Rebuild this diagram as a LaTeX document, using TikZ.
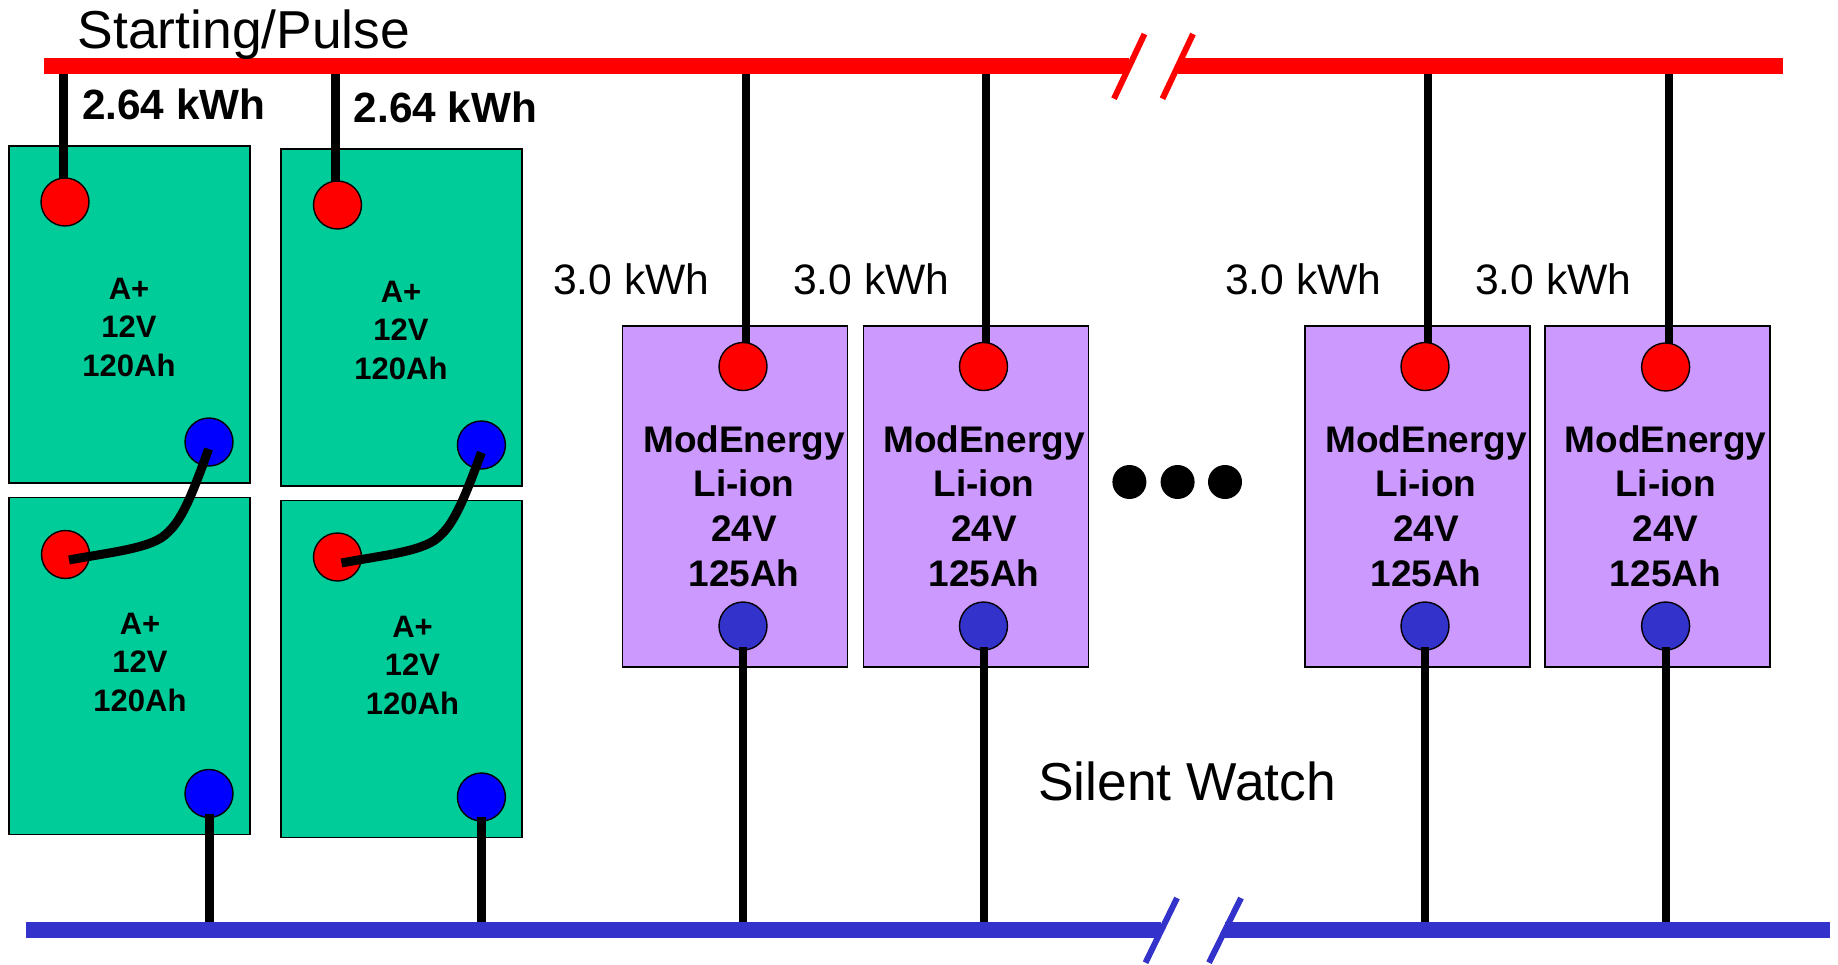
\documentclass[tikz,border=0pt]{standalone}
\usepackage{fontspec}
\setmainfont{Liberation Sans}
\definecolor{busred}{HTML}{FF0000}
\definecolor{busblue}{HTML}{3333CC}
\definecolor{agm}{HTML}{00CC99}
\definecolor{liion}{HTML}{CC99FF}
\definecolor{termblue}{HTML}{0000FF}
\tikzset{
  x=1pt,y=-1pt,
  cell/.style={draw=black,line width=1.3pt,minimum width=#1,inner sep=0pt,outer sep=0pt},
  agmcell/.style={cell=241pt,minimum height=337pt,fill=agm},
  lithcell/.style={cell=225pt,minimum height=341pt,fill=liion},
  term/.style={circle,draw=black,line width=1.4pt,minimum size=48pt,inner sep=0pt,outer sep=0pt},
  redterm/.style={term,fill=busred},
  blueterm/.style={term,fill=termblue},
  indigoterm/.style={term,fill=busblue},
  wire/.style={draw=black,line width=9pt},
  thinwire/.style={draw=black,line width=8pt},
  redbus/.style={draw=busred,line width=16pt},
  bluebus/.style={draw=busblue,line width=16pt},
  redslash/.style={draw=busred,line width=6pt},
  blueslash/.style={draw=busblue,line width=6pt},
  agmtext/.style={inner sep=0pt,anchor=base,align=center,font=\fontsize{31}{38.5}\selectfont\bfseries},
  lithtext/.style={inner sep=0pt,anchor=base,align=center,font=\fontsize{37}{44.6}\selectfont\bfseries},
  bigtext/.style={inner sep=0pt,anchor=base west,font=\fontsize{53.4}{60}\selectfont},
  kwhbold/.style={inner sep=0pt,anchor=base west,font=\fontsize{42.3}{50}\selectfont\bfseries},
  kwhplain/.style={inner sep=0pt,anchor=base west,font=\fontsize{42.6}{50}\selectfont},
  dotmark/.style={circle,fill=black,minimum size=34pt,inner sep=0pt},
}
\begin{document}
\begin{tikzpicture}
\useasboundingbox (0,0) rectangle (1838,964);
% bus anchors
\coordinate (rb0) at (44,66);
\coordinate (rb1) at (1129,66);
\coordinate (rb2) at (1178,66);
\coordinate (rb3) at (1783,66);
\coordinate (bb0) at (25.5,930);
\coordinate (bb1) at (1161,930);
\coordinate (bb2) at (1225,930);
\coordinate (bb3) at (1830,930);
\coordinate (rs1a) at (1144.5,34);
\coordinate (rs1b) at (1114,98.7);
\coordinate (rs2a) at (1193,34);
\coordinate (rs2b) at (1162.5,98.7);
\coordinate (bs1a) at (1177,898);
\coordinate (bs1b) at (1145.5,962.7);
\coordinate (bs2a) at (1241,898);
\coordinate (bs2b) at (1209,962.7);
% cells
\node[agmcell] (c1) at (129.5,314.5) {};
\node[agmcell] (c2) at (401.5,317.5) {};
\node[agmcell] (c3) at (129.5,666) {};
\node[agmcell] (c4) at (401.5,669) {};
\node[lithcell] (m1) at (735,496.5) {};
\node[lithcell] (m2) at (976,496.5) {};
\node[lithcell] (m3) at (1417.5,496.5) {};
\node[lithcell] (m4) at (1657.5,496.5) {};
% top wires
\coordinate (w1) at (63.5,66); \coordinate (w1e) at (63.5,190);
\coordinate (w2) at (335.7,66); \coordinate (w2e) at (335.7,193);
\coordinate (w3) at (745.5,66); \coordinate (w3e) at (745.5,350);
\coordinate (w4) at (986,66); \coordinate (w4e) at (986,350);
\coordinate (w5) at (1428,66); \coordinate (w5e) at (1428,350);
\coordinate (w6) at (1668.6,66); \coordinate (w6e) at (1668.6,350);
\draw[wire] (w1) -- (w1e);
\draw[wire] (w2) -- (w2e);
\draw[thinwire] (w3) -- (w3e);
\draw[thinwire] (w4) -- (w4e);
\draw[thinwire] (w5) -- (w5e);
\draw[thinwire] (w6) -- (w6e);
% terminals
\node[redterm] (r1) at (65,202) {};
\node[redterm] (r2) at (337.5,205) {};
\node[blueterm] (b1) at (209,442) {};
\node[blueterm] (b2) at (481.4,445) {};
\node[redterm] (r3) at (65.5,554.5) {};
\node[redterm] (r4) at (337.5,557) {};
\node[blueterm] (b3) at (209,793.5) {};
\node[blueterm] (b4) at (481.4,797) {};
\node[redterm] (mr1) at (743,366.5) {};
\node[redterm] (mr2) at (983.5,366.5) {};
\node[redterm] (mr3) at (1425,366.5) {};
\node[redterm] (mr4) at (1665.6,367) {};
\node[indigoterm] (mb1) at (743,626) {};
\node[indigoterm] (mb2) at (983.5,626) {};
\node[indigoterm] (mb3) at (1425,626) {};
\node[indigoterm] (mb4) at (1665.6,626) {};
% bottom wires
\coordinate (l1) at (209,814); \coordinate (l1e) at (209,930);
\coordinate (l2) at (481.4,817); \coordinate (l2e) at (481.4,930);
\coordinate (l3) at (743,647); \coordinate (l3e) at (743,930);
\coordinate (l4) at (983.5,647); \coordinate (l4e) at (983.5,930);
\coordinate (l5) at (1425,647); \coordinate (l5e) at (1425,930);
\coordinate (l6) at (1665.6,647); \coordinate (l6e) at (1665.6,930);
\draw[wire] (l1) -- (l1e);
\draw[wire] (l2) -- (l2e);
\draw[thinwire] (l3) -- (l3e);
\draw[thinwire] (l4) -- (l4e);
\draw[thinwire] (l5) -- (l5e);
\draw[thinwire] (l6) -- (l6e);
% series links
\coordinate (s1a) at (208.6,449); \coordinate (s1b) at (69,560);
\coordinate (s2a) at (481.4,452.5); \coordinate (s2b) at (341.5,563);
\draw[wire] (s1a) .. controls (191,498) and (181,522) .. (165,535) .. controls (149,549) and (105,553) .. (s1b);
\draw[wire] (s2a) .. controls (463.5,501) and (453.5,525) .. (437.5,538) .. controls (421.5,552) and (377.5,556) .. (s2b);
% buses
\draw[redbus] (rb0) -- (rb1);
\draw[redbus] (rb2) -- (rb3);
\draw[redslash] (rs1a) -- (rs1b);
\draw[redslash] (rs2a) -- (rs2b);
\draw[bluebus] (bb0) -- (bb1);
\draw[bluebus] (bb2) -- (bb3);
\draw[blueslash] (bs1a) -- (bs1b);
\draw[blueslash] (bs2a) -- (bs2b);
% text
\node[bigtext] (tsp) at (77.5,48) {Starting/Pulse};
\node[bigtext] (tsw) at (1038,800) {Silent Watch};
\node[kwhbold] (k1) at (82,119) {2.64 kWh};
\node[kwhbold] (k2) at (353.6,122) {2.64 kWh};
\node[kwhplain] (k3) at (553,294) {3.0 kWh};
\node[kwhplain] (k4) at (793,294) {3.0 kWh};
\node[kwhplain] (k5) at (1225,294) {3.0 kWh};
\node[kwhplain] (k6) at (1475,294) {3.0 kWh};
\node[agmtext] (a1) at (129,376) {A+\\12V\\120Ah};
\node[agmtext] (a2) at (401,379) {A+\\12V\\120Ah};
\node[agmtext] (a3) at (140,711) {A+\\12V\\120Ah};
\node[agmtext] (a4) at (412.5,714) {A+\\12V\\120Ah};
\node[lithtext] (t1) at (744,586) {ModEnergy\\Li-ion\\24V\\125Ah};
\node[lithtext] (t2) at (984,586) {ModEnergy\\Li-ion\\24V\\125Ah};
\node[lithtext] (t3) at (1426,586) {ModEnergy\\Li-ion\\24V\\125Ah};
\node[lithtext] (t4) at (1665.5,586) {ModEnergy\\Li-ion\\24V\\125Ah};
\node[dotmark] (d1) at (1129.4,482) {};
\node[dotmark] (d2) at (1177.6,482) {};
\node[dotmark] (d3) at (1225,482) {};
\end{tikzpicture}
\end{document}
